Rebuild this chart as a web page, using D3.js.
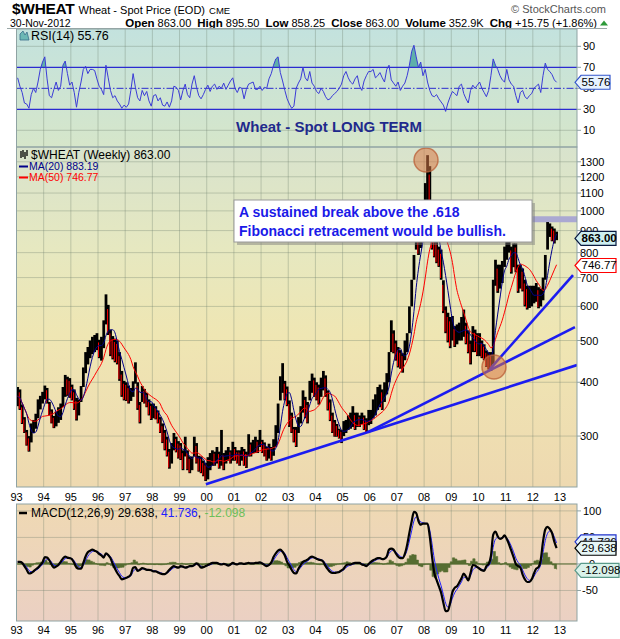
<!DOCTYPE html>
<html><head><meta charset="utf-8">
<script src="https://cdn.jsdelivr.net/npm/d3@7/dist/d3.min.js"></script>
<style>
html,body{margin:0;padding:0;background:#fff;}
svg{display:block;font-family:Arial,"Liberation Sans",Helvetica,sans-serif;}
</style></head>
<body><svg id="chart" width="620" height="639"></svg>
<script>
// ---------- DATA (monthly, Jan 1993 .. Nov 2012) ----------
const firstYear = 1993;
const monthLow = [
352,345,320,305,285,276,290,305,312,330,
346,357,365,357,335,321,313,316,322,327,
350,370,372,368,363,345,326,335,360,390,
420,440,455,465,470,475,455,449,480,545,
515,460,452,445,440,403,370,363,362,357,
362,370,397,345,321,360,357,350,335,327,
330,328,321,305,289,278,269,252,259,278,
275,266,264,250,269,250,246,250,269,259,
248,246,242,236,238,250,256,256,259,252,
256,250,259,263,259,263,263,259,256,263,
256,253,269,269,274,274,274,283,274,269,
263,266,263,270,283,305,363,378,363,352,
315,305,290,283,305,321,340,330,321,363,
378,370,363,355,370,383,370,344,325,305,
299,299,296,289,300,305,310,312,315,310,
315,315,320,310,305,318,320,330,335,345,
350,345,360,375,400,470,467,449,433,430,
421,450,470,520,600,692,813,790,820,880,
970,1050,900,813,780,756,741,692,579,520,
495,480,500,483,490,500,500,510,490,467,
440,470,470,460,460,455,450,434,428,425,
440,670,645,660,680,741,770,800,715,740,
720,645,660,650,600,590,595,600,610,615,
594,600,620,692,813,870,850,840,855];
const monthHigh = [
390,385,355,332,310,300,321,327,338,365,
372,380,393,388,360,346,334,342,350,357,
390,416,412,409,395,385,368,365,392,433,
470,483,500,510,515,520,502,510,557,640,
605,530,512,505,500,470,425,403,400,393,
388,402,445,400,360,392,386,378,365,357,
357,352,344,332,321,310,299,280,289,305,
299,292,289,278,299,278,269,269,299,289,
270,269,263,260,268,274,278,276,283,276,
310,274,278,283,278,291,283,278,278,283,
280,276,303,290,294,299,294,310,294,290,
283,288,283,295,318,357,413,443,403,391,
363,340,315,315,332,352,383,370,360,403,
419,410,400,395,410,425,415,383,365,340,
327,320,312,310,325,327,335,340,352,340,
340,335,340,335,330,345,345,365,375,390,
395,385,400,420,470,557,528,500,483,475,
467,500,520,600,692,790,935,890,900,990,
1160,1347,1270,920,870,855,826,813,690,600,
580,567,570,540,545,550,567,590,550,528,
500,540,530,520,520,500,490,474,470,470,
692,770,750,750,765,826,855,885,826,840,
840,750,750,735,692,670,670,670,670,680,
665,660,700,790,942,935,920,910,895];
const rsiValues = [
60,52,46,36,35,31,44,50,46,56,
68,75,80,59,43,41,49,56,48,52,
72,76,64,53,56,46,32,46,56,68,
71,64,68,68,67,59,52,49,44,72,
60,48,41,43,38,35,31,34,32,35,
48,64,51,41,38,48,43,47,38,33,
43,44,38,41,34,33,37,32,38,52,
51,48,39,48,54,44,41,54,62,51,
43,40,44,49,53,47,52,54,49,52,
50,55,49,53,57,60,50,46,51,50,
40,49,54,55,56,49,49,52,48,51,
50,59,64,72,78,80,65,57,48,40,
35,31,33,50,55,59,70,60,57,66,
55,52,47,45,50,47,42,39,40,43,
45,47,50,54,62,66,60,56,54,59,
62,52,48,57,62,66,66,68,60,62,
65,60,56,68,72,58,55,52,56,48,
52,55,62,72,85,91,80,70,75,62,
68,56,48,43,42,44,40,37,34,28,
36,42,47,45,43,52,54,45,40,36,
48,53,50,53,56,50,46,42,48,62,
78,72,68,62,58,56,68,58,54,52,
43,36,46,48,42,40,43,45,50,52,
54,46,62,74,68,66,63,58,55.76];
const macdValues = [
4,4,2,-4,-11,-18,-17,-14,-10,-7,
-2,3,13,12,7,-1,-7,-5,-2,4,
10,14,12,11,9,2,-7,-9,-9,2,
14,22,25,27,25,23,19,16,12,20,
17,11,0,-9,-17,-23,-29,-28,-26,-24,
-20,-7,-6,-13,-11,-8,-9,-11,-11,-12,
-14,-14,-16,-18,-19,-19,-16,-11,-7,-4,
-6,-7,-4,-5,-7,-6,-4,-4,-2,1,
-2,-7,-6,-4,-2,0,2,2,2,0,
-1,0,-1,-3,-1,2,0,-1,1,1,
0,1,2,1,1,2,2,3,1,-2,
-4,-2,3,13,20,25,27,23,16,4,
-3,-11,-17,-18,-9,-2,4,6,8,12,
14,12,10,8,7,4,-4,-10,-15,-17,
-17,-16,-15,-12,-9,-3,-1,-1,1,2,
2,2,-1,-2,-4,0,4,7,9,11,
11,9,10,14,27,29,27,20,14,11,
11,19,36,59,80,98,96,81,74,76,
76,76,52,14,-17,-30,-42,-54,-73,-89,
-88,-73,-53,-45,-42,-35,-27,-18,-24,-31,
-17,-2,-3,-6,-9,-12,-13,-4,0,15,
55,61,52,47,49,54,47,37,25,13,
0,-4,-7,-20,-29,-34,-34,-29,-18,-9,
-6,8,42,65,70,66,58,42,29.638];
const yearLabels = ["93","94","95","96","97","98","99","00","01","02","03","04","05","06","07","08","09","10","11","12","13"];
const priceTicks = [300,400,500,600,700,800,900,1000,1100,1200,1300];
const rsiTicks = [10,30,50,70,90];
const macdTicks = [-50,0,50,100];
const lastClose = 863.00, lastMA20 = 883.19, lastMA50 = 746.77;
const lastRSI = 55.76, lastMACD = 29.638, lastSignal = 41.736, lastHist = -12.098;
// trend lines in [year, price, year, price]
const trendLines = [[1999.97,232,2013.626,438.6],[2005.93,306.5,2013.55,537],[2010.42,429,2013.48,709.6]];
const circles = [[2008.07,1312],[2010.57,434]];
const fibLevel = 956;

// ---------- SETUP ----------
const svg = d3.select("#chart");
const L = 16.5, R = 577;
const rsiTop = 29, rsiBot = 147, mainTop = 147, mainBot = 487, macdTop = 504, macdBot = 621;
const x = d3.scaleLinear().domain([1993, 2013.626]).range([L, R]);
const yP = d3.scaleLog().domain([228.5, 1407]).range([mainBot, mainTop]);
const yR = d3.scaleLinear().domain([-5.9, 106.5]).range([rsiBot, rsiTop]);
const yM = d3.scaleLinear().domain([-107.5, 113]).range([macdBot, macdTop]);
const tOf = i => firstYear + (i + 0.5) / 12;
const n = monthHigh.length;
const mid = monthHigh.map((h, i) => (h + monthLow[i]) / 2);

// indicators derived from the data
const sma = (arr, w) => arr.map((v, i) => d3.mean(arr.slice(Math.max(0, i - w + 1), i + 1)));
const ema = (arr, a) => { let e = arr[0]; return arr.map((v, i) => (e = i ? a * v + (1 - a) * e : v)); };
const ma20 = sma(mid, 5), ma50 = sma(mid, 12);
const wk = 52 / 12;
const signal = ema(macdValues, 1 / (1 + 4 / wk));
const hist = macdValues.map((v, i) => v - signal[i]);

const defs = svg.append("defs");
function grad(id, stops) {
  const g = defs.append("linearGradient").attr("id", id).attr("x1", 0).attr("y1", 0).attr("x2", 0).attr("y2", 1);
  stops.forEach(([o, c]) => g.append("stop").attr("offset", o).attr("stop-color", c));
}
grad("gR", [[0, "#c3e2de"], [1, "#d6e6ca"]]);
grad("gP", [[0, "#d8e3cd"], [0.3, "#e6e8c0"], [0.55, "#efe6b3"], [1, "#eed9b0"]]);
grad("gM", [[0, "#efd9b3"], [1, "#ebd0c3"]]);
function clip(id, y0, y1) {
  defs.append("clipPath").attr("id", id).append("rect").attr("x", L).attr("y", y0).attr("width", R - L).attr("height", y1 - y0);
}
clip("cR", rsiTop, rsiBot); clip("cP", mainTop, mainBot); clip("cM", macdTop, macdBot);
defs.append("clipPath").attr("id", "cR70").append("rect").attr("x", L).attr("y", rsiTop).attr("width", R - L).attr("height", yR(70) - rsiTop);

// ---------- HEADER ----------
const h1 = svg.append("text").attr("x", 12).attr("y", 14);
h1.append("tspan").attr("font-size", 15.5).attr("font-weight", "bold").attr("letter-spacing", -0.3).text("$WHEAT");
h1.append("tspan").attr("font-size", 11).attr("dx", 4).text("Wheat - Spot Price (EOD)");
h1.append("tspan").attr("font-size", 9.5).attr("dx", 4).text("CME");
svg.append("text").attr("x", 606).attr("y", 13).attr("text-anchor", "end").attr("font-size", 11).attr("fill", "#555").text("© StockCharts.com");
svg.append("text").attr("x", 10).attr("y", 26.5).attr("font-size", 10.5).text("30-Nov-2012");
const h2 = svg.append("text").attr("x", 597).attr("y", 26.5).attr("text-anchor", "end").attr("font-size", 11);
[["Open", "863.00"], ["High", "895.50"], ["Low", "858.25"], ["Close", "863.00"], ["Volume", "352.9K"], ["Chg", "+15.75 (+1.86%)"]].forEach(([k, v], j) => {
  h2.append("tspan").attr("font-weight", "bold").attr("font-size", 11.5).attr("dx", j ? 6 : 0).text(k);
  h2.append("tspan").attr("dx", 3).text(v);
});
svg.append("path").attr("d", "M600,25.5 L604,20.5 L608,25.5 Z").attr("fill", "#2e9a3a");
svg.append("line").attr("x1", 7).attr("x2", 607).attr("y1", 28.5).attr("y2", 28.5).attr("stroke", "#9aa7a7");

// ---------- PANELS ----------
function panel(y0, y1, fill) {
  svg.append("rect").attr("x", L).attr("y", y0).attr("width", R - L).attr("height", y1 - y0).attr("fill", fill);
}
panel(rsiTop, rsiBot, "url(#gR)");
panel(mainTop, mainBot, "url(#gP)");
panel(macdTop, macdBot, "url(#gM)");
const gridCol = "rgba(105,125,105,0.33)";
const years = d3.range(1994, 2014);
[[rsiTop, rsiBot], [mainTop, mainBot], [macdTop, macdBot]].forEach(([a, b]) => {
  svg.append("g").selectAll("line").data(years).join("line")
    .attr("x1", d => x(d)).attr("x2", d => x(d)).attr("y1", a).attr("y2", b)
    .attr("stroke", gridCol).attr("stroke-width", 1);
});
svg.append("g").selectAll("line").data(priceTicks).join("line")
  .attr("x1", L).attr("x2", R).attr("y1", d => yP(d)).attr("y2", d => yP(d)).attr("stroke", gridCol);
svg.append("g").selectAll("line").data([10, 90]).join("line")
  .attr("x1", L).attr("x2", R).attr("y1", d => yR(d)).attr("y2", d => yR(d)).attr("stroke", gridCol);
svg.append("g").selectAll("line").data(macdTicks).join("line")
  .attr("x1", L).attr("x2", R).attr("y1", d => yM(d)).attr("y2", d => yM(d)).attr("stroke", gridCol);

// ---------- RSI ----------
const gR = svg.append("g").attr("clip-path", "url(#cR)");
const rsiLine = d3.line().x((d, i) => x(tOf(i))).y(d => yR(d));
const rsiArea70 = d3.area().x((d, i) => x(tOf(i))).y0(yR(70)).y1(d => yR(d));
gR.append("path").datum(rsiValues).attr("d", rsiArea70).attr("fill", "#5fb0aa").attr("clip-path", "url(#cR70)");
gR.append("line").attr("x1", L).attr("x2", R).attr("y1", yR(70)).attr("y2", yR(70)).attr("stroke", "#2b2bd0").attr("stroke-width", 1.3);
gR.append("line").attr("x1", L).attr("x2", R).attr("y1", yR(30)).attr("y2", yR(30)).attr("stroke", "#2b2bd0").attr("stroke-width", 1.3);
gR.append("line").attr("x1", L).attr("x2", R).attr("y1", yR(50)).attr("y2", yR(50)).attr("stroke", "#2b2bd0").attr("stroke-dasharray", "7,2,1.5,2");
gR.append("path").datum(rsiValues).attr("d", rsiLine).attr("fill", "none").attr("stroke", "#3b3bd6").attr("stroke-width", 1);
svg.append("path").attr("d", "M20,40 L20,34 L23,31 L25,35 L27,32 L29,40 Z").attr("fill", "#6cb8b5").attr("stroke", "#3a6f8c").attr("stroke-width", 0.8);
svg.append("text").attr("x", 31).attr("y", 39.5).attr("font-size", 12.5).text("RSI(14) 55.76");
svg.append("text").attr("x", 329).attr("y", 132).attr("text-anchor", "middle").attr("font-size", 15).attr("font-weight", "bold").attr("fill", "#1f2a8c").text("Wheat - Spot LONG TERM");
svg.append("g").selectAll("text").data(rsiTicks).join("text")
  .attr("x", 583).attr("y", d => yR(d) + 4).attr("font-size", 11).text(d => d);
svg.append("g").selectAll("line").data(rsiTicks).join("line")
  .attr("x1", R).attr("x2", R + 4).attr("y1", d => yR(d)).attr("y2", d => yR(d)).attr("stroke", "#8fa3a3");

// ---------- PRICE ----------
const gP = svg.append("g").attr("clip-path", "url(#cP)");
gP.append("line").attr("x1", x(2008.6)).attr("x2", R).attr("y1", yP(fibLevel)).attr("y2", yP(fibLevel))
  .attr("stroke", "#aaa8d2").attr("stroke-width", 6);
const bw = (x(1994) - x(1993)) / 12;
gP.append("g").selectAll("rect").data(d3.range(n)).join("rect")
  .attr("x", i => x(tOf(i)) - bw / 2 - 0.2).attr("width", bw + 0.5)
  .attr("y", i => yP(monthHigh[i])).attr("height", i => Math.max(1, yP(monthLow[i]) - yP(monthHigh[i])))
  .attr("fill", "#000");
gP.append("g").selectAll("rect").data(d3.range(1, n).filter(i => mid[i] < mid[i - 1])).join("rect")
  .attr("x", i => x(tOf(i)) - bw / 2).attr("width", 1)
  .attr("y", i => yP(monthHigh[i] - (monthHigh[i] - monthLow[i]) * 0.15)).attr("height", i => Math.max(1, (yP(monthLow[i]) - yP(monthHigh[i])) * 0.8))
  .attr("fill", "#f00");
const maLine = d3.line().x((d, i) => x(tOf(i))).y(d => yP(d)).curve(d3.curveMonotoneX);
gP.append("path").datum(ma50).attr("d", maLine).attr("fill", "none").attr("stroke", "#f00").attr("stroke-width", 1);
gP.append("path").datum(ma20).attr("d", maLine).attr("fill", "none").attr("stroke", "#00008b").attr("stroke-width", 1);
gP.append("g").selectAll("line").data(trendLines).join("line")
  .attr("x1", d => x(d[0])).attr("y1", d => yP(d[1])).attr("x2", d => x(d[2])).attr("y2", d => yP(d[3]))
  .attr("stroke", "#1c1cf0").attr("stroke-width", 2.6);
gP.append("g").selectAll("circle").data(circles).join("circle")
  .attr("cx", d => x(d[0])).attr("cy", d => yP(d[1])).attr("r", 12)
  .attr("fill", "rgba(215,120,70,0.55)").attr("stroke", "rgba(185,95,55,0.75)").attr("stroke-width", 1.5);
// annotation box
svg.append("rect").attr("x", 237).attr("y", 203).attr("width", 298).attr("height", 42).attr("fill", "rgba(120,120,120,0.45)");
svg.append("rect").attr("x", 234).attr("y", 200).attr("width", 298).attr("height", 42).attr("fill", "#fff").attr("stroke", "#9a9a9a");
svg.append("text").attr("x", 239).attr("y", 217).attr("font-size", 14).attr("font-weight", "bold").attr("fill", "#1a1ae8").text("A sustained break above the .618");
svg.append("text").attr("x", 239).attr("y", 235.5).attr("font-size", 14).attr("font-weight", "bold").attr("fill", "#1a1ae8").text("Fibonacci retracement would be bullish.");
// legend
const lg = svg.append("g");
[[21, 151, 158], [23, 150, 157], [25, 152, 159], [27, 150, 156]].forEach(([xx, a, b]) =>
  lg.append("line").attr("x1", xx).attr("x2", xx).attr("y1", a).attr("y2", b).attr("stroke", "#000").attr("stroke-width", 1.3));
lg.append("text").attr("x", 31).attr("y", 159).attr("font-size", 12).text("$WHEAT (Weekly) 863.00");
lg.append("line").attr("x1", 19).attr("x2", 28).attr("y1", 166.5).attr("y2", 166.5).attr("stroke", "#00008b").attr("stroke-width", 2);
lg.append("text").attr("x", 29).attr("y", 170).attr("font-size", 10.5).attr("fill", "#00008b").text("MA(20) " + lastMA20.toFixed(2));
lg.append("line").attr("x1", 19).attr("x2", 28).attr("y1", 177.5).attr("y2", 177.5).attr("stroke", "#f00").attr("stroke-width", 2);
lg.append("text").attr("x", 29).attr("y", 181).attr("font-size", 10.5).attr("fill", "#f00").text("MA(50) " + lastMA50.toFixed(2));
// axis
svg.append("g").selectAll("text").data(priceTicks).join("text")
  .attr("x", 580).attr("y", d => yP(d) + 4).attr("font-size", 11).text(d => d);
svg.append("g").selectAll("line").data(priceTicks).join("line")
  .attr("x1", R).attr("x2", R + 4).attr("y1", d => yP(d)).attr("y2", d => yP(d)).attr("stroke", "#8fa3a3");

// ---------- MACD ----------
const gM = svg.append("g").attr("clip-path", "url(#cM)");
const histArea = d3.area().x((d, i) => x(tOf(i))).y0(yM(0)).y1(d => yM(d)).curve(d3.curveStepAfter);
gM.append("path").datum(hist).attr("d", histArea).attr("fill", "#566d31").attr("stroke", "#566d31").attr("stroke-width", 0.6);
gM.append("line").attr("x1", L).attr("x2", R).attr("y1", yM(0)).attr("y2", yM(0)).attr("stroke", "#566d31");
const mLine = d3.line().x((d, i) => x(tOf(i))).y(d => yM(d)).curve(d3.curveMonotoneX);
gM.append("path").datum(signal).attr("d", mLine).attr("fill", "none").attr("stroke", "#2020ff").attr("stroke-width", 1);
gM.append("path").datum(macdValues).attr("d", mLine).attr("fill", "none").attr("stroke", "#000").attr("stroke-width", 2.2);
svg.append("line").attr("x1", 19).attr("x2", 27).attr("y1", 513).attr("y2", 513).attr("stroke", "#000").attr("stroke-width", 2.5);
const ml = svg.append("text").attr("x", 31).attr("y", 517).attr("font-size", 12);
ml.append("tspan").text("MACD(12,26,9) " + lastMACD.toFixed(3) + ", ");
ml.append("tspan").attr("fill", "#2020ff").text(lastSignal.toFixed(3));
ml.append("tspan").text(", ");
ml.append("tspan").attr("fill", "#6cbf5a").text(lastHist.toFixed(3));
svg.append("g").selectAll("text").data(macdTicks).join("text")
  .attr("x", d => d < 0 ? 582 : (d === 0 ? 589 : 583)).attr("y", d => yM(d) + 4).attr("font-size", 11).text(d => d);
svg.append("g").selectAll("line").data(macdTicks).join("line")
  .attr("x1", R).attr("x2", R + 4).attr("y1", d => yM(d)).attr("y2", d => yM(d)).attr("stroke", "#8fa3a3");

// panel borders
[[rsiTop, rsiBot], [mainTop, mainBot], [macdTop, macdBot]].forEach(([a, b]) =>
  svg.append("rect").attr("x", L).attr("y", a).attr("width", R - L).attr("height", b - a).attr("fill", "none").attr("stroke", "#8fa3a3"));

// year labels
[500.5, 634].forEach(yy => {
  svg.append("g").selectAll("text").data(yearLabels).join("text")
    .attr("x", (d, j) => x(1993 + j)).attr("y", yy).attr("text-anchor", "middle").attr("font-size", 11).text(d => d);
});

// ---------- value markers ----------
function marker(yv, txt, stroke, fill, bold, w) {
  const x0 = R - 2, x1 = x0 + w;
  svg.append("path").attr("d", `M${x0},${yv} L${x0 + 6},${yv - 7} L${x1},${yv - 7} L${x1},${yv + 7} L${x0 + 6},${yv + 7} Z`)
    .attr("fill", fill).attr("stroke", stroke).attr("stroke-width", 1.2);
  svg.append("text").attr("x", x0 + 6.5).attr("y", yv + 4).attr("font-size", 11.5).attr("font-weight", bold ? "bold" : "normal").text(txt);
}
marker(yR(lastRSI), lastRSI.toFixed(2), "#3355cc", "#e8f3ff", false, 35);
marker(yP(lastMA50), lastMA50.toFixed(2), "#f00", "#fff", false, 41);
marker(yP(lastClose), lastClose.toFixed(2), "#0a1a40", "#cdeef0", true, 41);
marker(yM(lastSignal), lastSignal.toFixed(3), "#2233cc", "#e3f2ff", false, 41);
marker(yM(lastMACD), lastMACD.toFixed(3), "#000", "#e6f6f6", false, 41);
marker(yM(lastHist), lastHist.toFixed(3), "#5a9a8a", "#d9f2ea", false, 44);
</script>
</body></html>
